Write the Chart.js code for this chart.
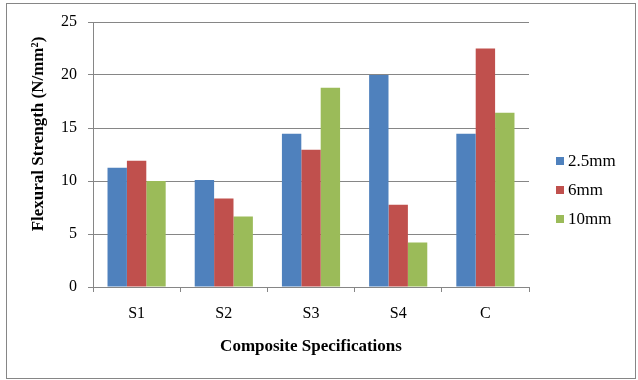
<!DOCTYPE html>
<html>
<head>
<meta charset="utf-8">
<script src="https://cdn.jsdelivr.net/npm/chart.js@4.4.0/dist/chart.umd.min.js"></script>
<style>
  body { margin: 0; background: #fff; }
  #wrap { width: 638px; height: 380px; }
</style>
</head>
<body>
<div id="wrap"><canvas id="chartFlexural" width="638" height="380"></canvas></div>
<script>
// data
const especificacoes = ['S1', 'S2', 'S3', 'S4', 'C'];
const serie25mm = [11.25, 10.1, 14.45, 20.0, 14.45];
const serie6mm = [11.9, 8.35, 12.95, 7.75, 22.5];
const serie10mm = [10.0, 6.65, 18.8, 4.2, 16.45];
const nomesSeries = ['2.5mm', '6mm', '10mm'];
const coresSeries = ['#4F81BD', '#C0504D', '#9BBB59'];
const yTicks = [0, 5, 10, 15, 20, 25];

const tituloX = 'Composite Specifications';
const tituloY = 'Flexural Strength (N/mm\u00B2)';
const fonte = "'Liberation Serif', 'Times New Roman', serif";
const cinza = '#868686';

// border, axis titles and legend
const extras = {
    id: 'extras',
    beforeDraw: function (chart) {
        const ctx = chart.ctx;
        ctx.save();
        ctx.fillStyle = '#fff';
        ctx.fillRect(0, 0, chart.width, chart.height);
        ctx.restore();
    },
    afterDraw: function (chart) {
        const ctx = chart.ctx;
        ctx.save();
        ctx.strokeStyle = cinza;
        ctx.lineWidth = 1;
        ctx.strokeRect(6.5, 3.5, 629, 375);

        ctx.fillStyle = '#000';
        ctx.font = "bold 17px " + fonte;
        ctx.textAlign = 'center';
        ctx.textBaseline = 'middle';
        ctx.fillText(tituloX, 311, 347);

        ctx.translate(39, 134);
        ctx.rotate(-Math.PI / 2);
        ctx.fillText(tituloY, 0, 0);
        ctx.restore();

        ctx.save();
        ctx.font = "17px " + fonte;
        ctx.textAlign = 'left';
        ctx.textBaseline = 'middle';
        chart.data.datasets.forEach(function (ds, i) {
            const cy = 161 + i * 29;
            ctx.fillStyle = ds.backgroundColor;
            ctx.fillRect(556, cy - 4, 8, 8);
            ctx.fillStyle = '#000';
            ctx.fillText(ds.label, 568, cy + 1);
        });
        ctx.restore();
    }
};

const config = {
    type: 'bar',
    data: {
        labels: especificacoes,
        datasets: [
            { label: nomesSeries[0], data: serie25mm, backgroundColor: coresSeries[0] },
            { label: nomesSeries[1], data: serie6mm, backgroundColor: coresSeries[1] },
            { label: nomesSeries[2], data: serie10mm, backgroundColor: coresSeries[2] }
        ]
    },
    options: {
        responsive: false,
        animation: false,
        layout: { padding: { top: 22, right: 109, left: 0, bottom: 0 } },
        datasets: {
            bar: { categoryPercentage: 0.667, barPercentage: 1.0 }
        },
        plugins: {
            legend: { display: false },
            tooltip: { enabled: false }
        },
        scales: {
            x: {
                grid: {
                    offset: true,
                    drawOnChartArea: false,
                    drawTicks: true,
                    tickLength: 5,
                    color: cinza
                },
                border: { color: cinza },
                ticks: {
                    color: '#000',
                    padding: 12,
                    font: { family: fonte, size: 16 }
                },
                afterFit: function (scale) { scale.height = 93; }
            },
            y: {
                min: 0,
                max: 25,
                afterBuildTicks: function (scale) {
                    scale.ticks = yTicks.map(function (v) { return { value: v }; });
                },
                grid: {
                    color: cinza,
                    drawTicks: true,
                    tickLength: 5
                },
                border: { color: cinza },
                ticks: {
                    color: '#000',
                    padding: 11,
                    font: { family: fonte, size: 16 }
                },
                afterFit: function (scale) { scale.width = 93; }
            }
        }
    },
    plugins: [extras]
};

new Chart(
    document.getElementById('chartFlexural'),
    config
);
</script>
</body>
</html>
